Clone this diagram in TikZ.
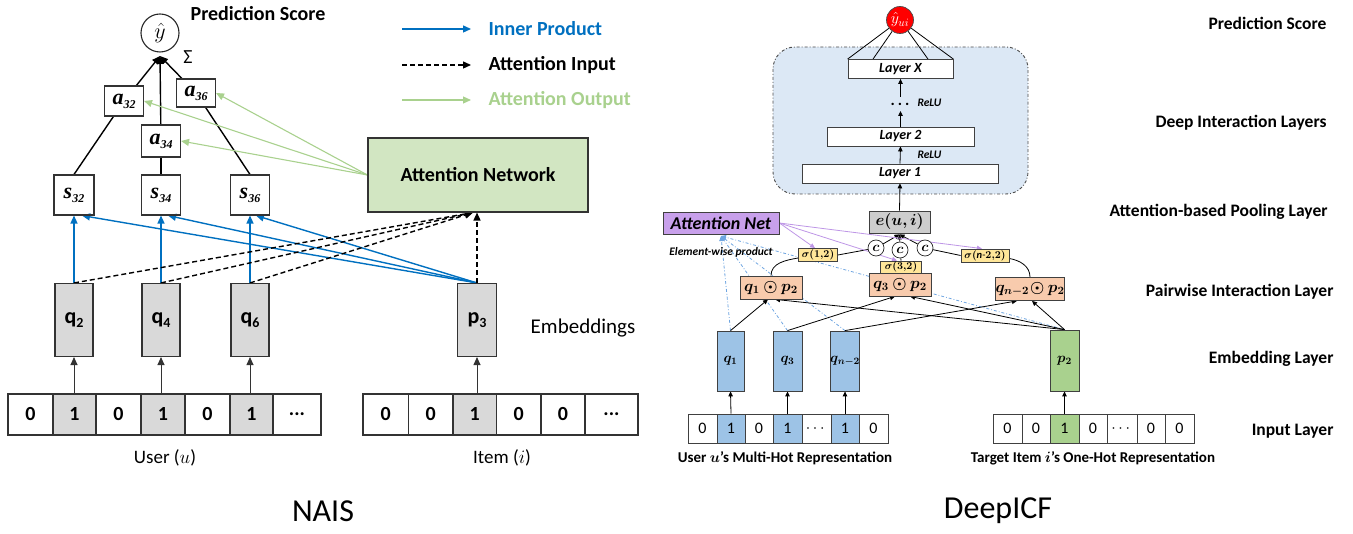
\RequirePackage{fix-cm}
\documentclass[tikz,border=0pt]{standalone}
\usepackage{amsmath,bm}
\usepackage{fontspec}
\setmainfont{Carlito}
\newfontfamily\serifbi{Liberation Serif}
\usetikzlibrary{arrows.meta,calc,backgrounds}
\newcommand\fsz[1]{\fontsize{#1}{#1}\selectfont}
\definecolor{nblue}{RGB}{0,112,192}
\definecolor{agreen}{RGB}{169,209,142}
\definecolor{angreen}{RGB}{210,230,194}
\definecolor{qgray}{RGB}{217,217,217}
\definecolor{deepbg}{RGB}{220,232,245}
\definecolor{egray}{RGB}{205,205,205}
\definecolor{anpurple}{RGB}{200,160,235}
\definecolor{purpline}{RGB}{190,150,230}
\definecolor{peach}{RGB}{248,203,173}
\definecolor{sigyel}{RGB}{255,230,153}
\definecolor{embblue}{RGB}{157,195,230}
\definecolor{embgreen}{RGB}{169,209,142}
\definecolor{dashblue}{RGB}{110,165,225}
\begin{document}
\begin{tikzpicture}[x=1pt,y=-1pt,
  bx/.style={draw=black!80,line width=1.1pt,inner sep=0pt,align=center},
  thinbx/.style={draw=black!75,line width=0.8pt,inner sep=0pt,align=center},
  cellN/.style={bx,minimum height=41pt,font=\fsz{20}\bfseries},
  cellD/.style={thinbx,minimum height=29pt,font=\fsz{16}},
  arr/.style={-{Triangle[length=8pt,width=7pt]},line width=1.4pt},
  sarr/.style={-{Triangle[length=5pt,width=4.5pt]},line width=0.8pt},
  lbl/.style={font=\fsz{17.5}\bfseries,anchor=east},
]
\useasboundingbox (0,0) rectangle (1353,534);

% ================= NAIS =================
\node[circle,draw=black!85,line width=1.1pt,minimum size=38pt,inner sep=0pt] (yhat) at (160,33) {\fsz{22}$\hat{y}$};
\coordinate (tipN) at (160,56);
\node (sig) at (188,57) {\fsz{20}Σ};
\node[font=\fsz{20}\bfseries] (ps) at (258,14) {Prediction Score};

\node[bx,minimum width=39pt,minimum height=30pt] (a32) at (124,101) {\serifbi\bfseries\itshape\fsz{22}a\raisebox{-4pt}{\fsz{12}32}};
\node[bx,minimum width=39pt,minimum height=28pt] (a36) at (196,93) {\serifbi\bfseries\itshape\fsz{22}a\raisebox{-4pt}{\fsz{12}36}};
\node[bx,minimum width=39pt,minimum height=32pt] (a34) at (161,141) {\serifbi\bfseries\itshape\fsz{22}a\raisebox{-4pt}{\fsz{12}34}};

\node[bx,minimum width=40pt,minimum height=40pt] (s32) at (74,195) {\serifbi\bfseries\itshape\fsz{22}s\raisebox{-4pt}{\fsz{12}32}};
\node[bx,minimum width=39pt,minimum height=40pt] (s34) at (161,195) {\serifbi\bfseries\itshape\fsz{22}s\raisebox{-4pt}{\fsz{12}34}};
\node[bx,minimum width=39pt,minimum height=40pt] (s36) at (250,195) {\serifbi\bfseries\itshape\fsz{22}s\raisebox{-4pt}{\fsz{12}36}};

\node[bx,fill=angreen,minimum width=220pt,minimum height=74pt,font=\fsz{20}\bfseries] (an) at (478,175) {Attention Network};

\node[bx,fill=qgray,minimum width=38pt,minimum height=73pt] (q2) at (74,320) {\fsz{22}\bfseries q\raisebox{-4pt}{\fsz{14}2}};
\node[bx,fill=qgray,minimum width=38pt,minimum height=73pt] (q4) at (161,320) {\fsz{22}\bfseries q\raisebox{-4pt}{\fsz{14}4}};
\node[bx,fill=qgray,minimum width=38pt,minimum height=73pt] (q6) at (250,320) {\fsz{22}\bfseries q\raisebox{-4pt}{\fsz{14}6}};
\node[bx,fill=qgray,minimum width=39pt,minimum height=73pt] (p3) at (477,320) {\fsz{22}\bfseries p\raisebox{-4pt}{\fsz{14}3}};
\node[font=\fsz{21}] (emb) at (583,328) {Embeddings};

% user row
\node[cellN,minimum width=45pt] (u1) at (30.5,414.5) {0};
\node[cellN,minimum width=43pt,fill=qgray] (u2) at (74.5,414.5) {1};
\node[cellN,minimum width=45pt] (u3) at (118.5,414.5) {0};
\node[cellN,minimum width=44pt,fill=qgray] (u4) at (163,414.5) {1};
\node[cellN,minimum width=45pt] (u5) at (207.5,414.5) {0};
\node[cellN,minimum width=43pt,fill=qgray] (u6) at (251.5,414.5) {1};
\node[cellN,minimum width=48pt] (u7) at (297,414.5) {...};
% item row
\node[cellN,minimum width=45.5pt] (i1) at (385.75,414.5) {0};
\node[cellN,minimum width=44.5pt] (i2) at (430.75,414.5) {0};
\node[cellN,minimum width=43.5pt,fill=qgray] (i3) at (474.75,414.5) {1};
\node[cellN,minimum width=44.5pt] (i4) at (518.75,414.5) {0};
\node[cellN,minimum width=44pt] (i5) at (563,414.5) {0};
\node[cellN,minimum width=53pt] (i6) at (611.5,414.5) {...};

\node[font=\fsz{19}] (ulab) at (165,458) {User ($u$)};
\node[font=\fsz{19}] (ilab) at (502,458) {Item ($i$)};
\node[font=\fsz{32}] (nais) at (323,511) {NAIS};

% legend
\coordinate (l1a) at (402,29); \coordinate (l1b) at (471,29);
\coordinate (l2a) at (402,65); \coordinate (l2b) at (471,65);
\coordinate (l3a) at (402,100); \coordinate (l3b) at (471,100);
\node[font=\fsz{20}\bfseries,text=nblue,anchor=west] (t1) at (485,29) {Inner Product};
\node[font=\fsz{20}\bfseries,anchor=west] (t2) at (485,65) {Attention Input};
\node[font=\fsz{20}\bfseries,text=agreen,anchor=west] (t3) at (485,100) {Attention Output};

% ================= DeepICF =================
\node[circle,draw=black!70,line width=0.7pt,fill=red,minimum size=27pt,inner sep=0pt,text=white] (yui) at (900,20) {\fsz{16}$\hat{y}_{ui}$};
\node[thinbx,fill=white,minimum width=105pt,minimum height=19pt,font=\fsz{14}\bfseries\itshape] (lx) at (900.5,69) {Layer X};
\node[thinbx,fill=white,minimum width=147pt,minimum height=19pt,font=\fsz{14}\bfseries\itshape] (l2) at (900.5,136.5) {Layer 2};
\node[thinbx,fill=white,minimum width=196pt,minimum height=19pt,font=\fsz{14}\bfseries\itshape] (l1) at (900,173.5) {Layer 1};
\coordinate (d2) at (900.5,111);
\coordinate (d1) at (900.5,97);
\node[font=\fsz{16}\bfseries,anchor=base,inner sep=0pt] (dots) at (900,106) {.\hspace{3pt}.\hspace{3pt}.};
\node[font=\fsz{11.5}\bfseries\itshape,anchor=west] (relu2) at (914,103) {ReLU};
\node[font=\fsz{11.5}\bfseries\itshape,anchor=west] (relu1) at (914,155) {ReLU};

\node[thinbx,fill=egray,minimum width=61pt,minimum height=22pt] (eui) at (899.5,222) {\fsz{16}$\bm{e(u,i)}$};
\node[thinbx,fill=anpurple,minimum width=116pt,minimum height=22pt,font=\fsz{18}\bfseries\itshape] (anet) at (721,223) {Attention Net};
\node[font=\fsz{11.5}\bfseries\itshape] (ewp) at (721,252) {Element-wise product};

\node[circle,draw=black!85,line width=0.7pt,fill=white,minimum size=16pt,inner sep=0pt] (c1) at (876,248) {\fsz{14}$\bm{c}$};
\node[circle,draw=black!85,line width=0.7pt,fill=white,minimum size=16pt,inner sep=0pt] (c2) at (900,250) {\fsz{14}$\bm{c}$};
\node[circle,draw=black!85,line width=0.7pt,fill=white,minimum size=16pt,inner sep=0pt] (c3) at (925,248) {\fsz{14}$\bm{c}$};

\node[thinbx,fill=sigyel,minimum width=39pt,minimum height=13pt] (s12) at (818,255) {\fsz{10.5}$\bm{\sigma(1{,}2)}$};
\node[thinbx,fill=sigyel,minimum width=41pt,minimum height=12pt] (sg32) at (901,267) {\fsz{10.5}$\bm{\sigma(3{,}2)}$};
\node[thinbx,fill=sigyel,minimum width=48pt,minimum height=13pt] (snm) at (985,255.5) {\fsz{10.5}$\bm{\sigma(}${\bfseries\itshape n}$\bm{\text{-}2{,}2)}$};

\node[thinbx,fill=peach,minimum width=62pt,minimum height=23pt] (pp1) at (771,287.5) {\fsz{16}$\bm{q_1\odot p_2}$};
\node[thinbx,fill=peach,minimum width=62pt,minimum height=23pt] (pp3) at (900,284.5) {\fsz{16}$\bm{q_3\odot p_2}$};
\node[thinbx,fill=peach,minimum width=62pt,minimum height=23pt] (ppn) at (1030,289) {\fsz{16}$\bm{q_{n-2}\!\odot p_2}$};

\node[thinbx,fill=embblue,minimum width=27pt,minimum height=60pt] (q1) at (730.5,361) {\fsz{14}$\bm{q_1}$};
\node[thinbx,fill=embblue,minimum width=29pt,minimum height=60pt] (q3) at (787.5,361) {\fsz{14}$\bm{q_3}$};
\node[thinbx,fill=embblue,minimum width=28pt,minimum height=60pt] (qn) at (845,361) {\fsz{14}$\bm{q_{n-2}}$};
\node[thinbx,fill=embgreen,minimum width=29pt,minimum height=61pt] (p2e) at (1064.5,360.5) {\fsz{14}$\bm{p_2}$};

% user row (DeepICF)
\node[cellD,minimum width=29pt] (v1) at (702.5,428.5) {0};
\node[cellD,minimum width=28pt,fill=embblue] (v2) at (731,428.5) {1};
\node[cellD,minimum width=28pt] (v3) at (759,428.5) {0};
\node[cellD,minimum width=29pt,fill=embblue] (v4) at (787.5,428.5) {1};
\node[cellD,minimum width=29pt] (v5) at (816.5,428.5) {$\cdots$};
\node[cellD,minimum width=28pt,fill=embblue] (v6) at (845,428.5) {1};
\node[cellD,minimum width=29pt] (v7) at (873.5,428.5) {0};
% item row (DeepICF)
\node[cellD,minimum width=29pt] (w1) at (1007.5,428.5) {0};
\node[cellD,minimum width=28pt] (w2) at (1036,428.5) {0};
\node[cellD,minimum width=29pt,fill=embgreen] (w3) at (1064.5,428.5) {1};
\node[cellD,minimum width=28pt] (w4) at (1093,428.5) {0};
\node[cellD,minimum width=30pt] (w5) at (1122,428.5) {$\cdots$};
\node[cellD,minimum width=28pt] (w6) at (1151,428.5) {0};
\node[cellD,minimum width=29pt] (w7) at (1179.5,428.5) {0};

\node[font=\fsz{15}\bfseries] (vlab) at (785,458) {User $\bm{u}$'s Multi-Hot Representation};
\node[font=\fsz{15}\bfseries] (wlab) at (1093,458) {Target Item $\bm{i}$'s One-Hot Representation};
\node[font=\fsz{32}] (dicf) at (998,511) {DeepICF};

% right-hand labels
\node[lbl] (r1) at (1330,23) {Prediction Score};
\node[lbl] (r2) at (1330,123) {Deep Interaction Layers};
\node[lbl] (r3) at (1331,212) {Attention-based Pooling Layer};
\node[lbl] (r4) at (1337,292) {Pairwise Interaction Layer};
\node[lbl] (r5) at (1337,359) {Embedding Layer};
\node[lbl] (r6) at (1337,431) {Input Layer};

% ================= connectors (behind nodes) =================
\begin{scope}[on background layer]
  % DeepICF dash-dot container
  \draw[draw=black!70,line width=0.9pt,fill=deepbg,dash dot,rounded corners=22pt] (773,47) rectangle (1028,194);

  % NAIS
  \draw[arr] (a32) -- (tipN);
  \draw[arr] (a34) -- (tipN);
  \draw[arr] (a36) -- (tipN);
  \draw[line width=1.4pt] (s32.north) -- (a32);
  \draw[line width=1.4pt] (s34) -- (a34);
  \draw[line width=1.4pt] (s36.north) -- (a36);
  \draw[arr,nblue] (q2.north) -- (s32.south);
  \draw[arr,nblue] (q4.north) -- (s34.south);
  \draw[arr,nblue] (q6.north) -- (s36.south);
  \draw[arr,nblue] (p3.north) -- ([xshift=8pt]s32.south);
  \draw[arr,nblue] (p3.north) -- ([xshift=7pt]s34.south);
  \draw[arr,nblue] (p3.north) -- ([xshift=6pt]s36.south);
  \draw[arr,dashed,dash pattern=on 5pt off 3pt] (q2.north) -- ([xshift=-5pt]an.south);
  \draw[arr,dashed,dash pattern=on 5pt off 3pt] (q4.north) -- ([xshift=-5pt]an.south);
  \draw[arr,dashed,dash pattern=on 5pt off 3pt] (q6.north) -- ([xshift=-5pt]an.south);
  \draw[arr,dashed,dash pattern=on 5pt off 3pt] (p3.north) -- (p3.north |- an.south);
  \draw[arr,agreen,line width=1.1pt] (an.west) -- (a32.east);
  \draw[arr,agreen,line width=1.1pt] (an.west) -- (a34.east);
  \draw[arr,agreen,line width=1.1pt] (an.west) -- (a36.east);
  \draw[arr,line width=1pt,black!80] (u2.north -| q2) -- (q2.south);
  \draw[arr,line width=1pt,black!80] (u4.north -| q4) -- (q4.south);
  \draw[arr,line width=1pt,black!80] (u6.north -| q6) -- (q6.south);
  \draw[arr,line width=1pt,black!80] (i3.north -| p3) -- (p3.south);
  % legend
  \draw[arr,nblue] (l1a) -- (l1b);
  \draw[arr,dashed,dash pattern=on 5pt off 3pt] (l2a) -- (l2b);
  \draw[arr,agreen,line width=1.1pt] (l3a) -- (l3b);

  % DeepICF
  \draw[line width=0.8pt] (yui) -- (lx.north west);
  \draw[line width=0.8pt] (yui) -- ($(lx.north west)!0.24!(lx.north east)$);
  \draw[line width=0.8pt] (yui) -- ($(lx.north west)!0.76!(lx.north east)$);
  \draw[line width=0.8pt] (yui) -- (lx.north east);
  \draw[sarr] (l2.north) -- (d2);
  \draw[sarr] (d1) -- (lx.south);
  \draw[sarr] (l1.north) -- (l2.south);
  \draw[sarr] (eui.north) -- (l1.south);
  \draw[sarr] (c1) -- ([yshift=-1pt]eui.south);
  \draw[sarr] (c2) -- ([yshift=-1pt]eui.south);
  \draw[sarr] (c3) -- ([yshift=-1pt]eui.south);
  \draw[line width=0.8pt] (s12.east) -- (c1);
  \draw[line width=0.8pt] (sg32.north) -- (c2);
  \draw[line width=0.8pt] (snm.west) -- (c3);
  \draw[line width=0.8pt] (pp1.north) to[out=90,in=190] ([yshift=-3pt]s12.west);
  \draw[line width=0.8pt] ([yshift=-3pt]snm.east) to[out=-10,in=90] (ppn.north);
  % purple attention outputs
  \draw[sarr,purpline] (anet.east) -- ([xshift=-3pt]s12.north);
  \draw[sarr,purpline] (anet.east) -- ([xshift=-4pt]sg32.north);
  \draw[sarr,purpline] (anet.east) -- ([xshift=-3pt]snm.north);
  % blue dash-dot attention inputs
  \coordinate (anb) at (721,236);
  \draw[sarr,dashblue,dash dot] (q1.north) -- (anb);
  \draw[sarr,dashblue,dash dot] (q3.north) -- (anb);
  \draw[sarr,dashblue,dash dot] (qn.north) -- (anb);
  \draw[sarr,dashblue,dash dot] (p2e.north) -- (anb);
  % embeddings to pairwise products
  \draw[sarr] (q1.north) -- ([xshift=-3pt]pp1.south);
  \draw[sarr] (p2e.north) -- ([xshift=4pt]pp1.south);
  \draw[sarr] (q3.north) -- ([xshift=-5pt]pp3.south);
  \draw[sarr] (p2e.north) -- ([xshift=10pt]pp3.south);
  \draw[sarr] (qn.north) -- ([xshift=-13pt]ppn.south);
  \draw[sarr] (p2e.north) -- ([xshift=2pt]ppn.south);
  % inputs to embeddings
  \draw[sarr] (v2.north) -- (q1.south);
  \draw[sarr] (v4.north) -- (q3.south);
  \draw[sarr] (v6.north) -- (qn.south);
  \draw[sarr] (w3.north) -- (p2e.south);
\end{scope}
\end{tikzpicture}
\end{document}
